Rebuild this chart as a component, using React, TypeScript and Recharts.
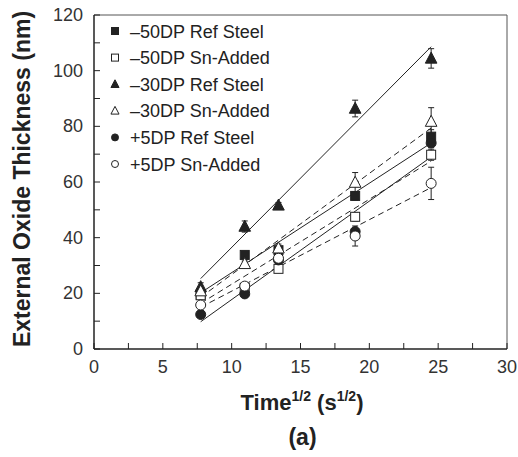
import React from 'react'
import { ScatterChart, Scatter, XAxis, YAxis, ErrorBar, ReferenceLine, Label } from 'recharts'

// sqrt of exposure time (s^1/2)
const times = [7.75, 10.95, 13.4, 18.97, 24.49]
const fitX = [7.75, 24.49]

const xTicks = [0, 2.5, 5, 7.5, 10, 12.5, 15, 17.5, 20, 22.5, 25, 27.5, 30]
const yTicks = [0, 10, 20, 30, 40, 50, 60, 70, 80, 90, 100, 110, 120]

// measured oxide thickness (nm)
const m50Ref = [19.5, 33.8, 35.5, 55, 76.3]
const m50RefErr = [1, 1, 1, 1.5, 2.5]
const m50Sn = [19.3, 22, 28.8, 47.5, 69.8]
const m50SnErr = [1, 1, 1, 1.5, 2]
const m30Ref = [22.3, 44, 51.6, 86.4, 104.4]
const m30RefErr = [1.5, 2, 1, 3, 3.5]
const m30Sn = [20.8, 30.6, 36.2, 59.8, 81.7]
const m30SnErr = [1, 1, 1.5, 3.6, 5]
const p5Ref = [12.4, 19.8, 32, 42.2, 74]
const p5RefErr = [1, 1, 1, 1, 1.5]
const p5Sn = [15.8, 22.6, 32.6, 40.6, 59.5]
const p5SnErr = [1, 1, 1, 3.6, 5.8]

// linear fits (start, end)
const m50RefFit = [20.2, 74.0]
const m50SnFit = [16.4, 67.5]
const m30RefFit = [25.3, 108.6]
const m30SnFit = [18.6, 79.4]
const p5RefFit = [9.8, 69.0]
const p5SnFit = [15.0, 58.0]

const INK = '#222'
const FONT = '"Liberation Sans", Arial, sans-serif'

type Kind = 'square' | 'triangle' | 'circle'

function marker(kind: Kind, filled: boolean, cx: number, cy: number, s: number) {
  const fill = filled ? INK : '#fff'
  if (kind === 'square') {
    return <rect x={cx - s / 2} y={cy - s / 2} width={s} height={s} fill={fill} stroke={INK} strokeWidth={1} />
  }
  if (kind === 'triangle') {
    const h = s * 1.05
    return (
      <polygon
        points={`${cx},${cy - h * 0.6} ${cx - s * 0.58},${cy + h * 0.45} ${cx + s * 0.58},${cy + h * 0.45}`}
        fill={fill}
        stroke={INK}
        strokeWidth={1}
      />
    )
  }
  return <circle cx={cx} cy={cy} r={s / 2} fill={fill} stroke={INK} strokeWidth={1} />
}

const series = [
  { name: '\u201350DP Ref Steel', kind: 'square' as Kind, filled: true, vals: m50Ref, errs: m50RefErr, fit: m50RefFit, dashed: false },
  { name: '\u201350DP Sn-Added', kind: 'square' as Kind, filled: false, vals: m50Sn, errs: m50SnErr, fit: m50SnFit, dashed: true },
  { name: '\u201330DP Ref Steel', kind: 'triangle' as Kind, filled: true, vals: m30Ref, errs: m30RefErr, fit: m30RefFit, dashed: false },
  { name: '\u201330DP Sn-Added', kind: 'triangle' as Kind, filled: false, vals: m30Sn, errs: m30SnErr, fit: m30SnFit, dashed: true },
  { name: '+5DP Ref Steel', kind: 'circle' as Kind, filled: true, vals: p5Ref, errs: p5RefErr, fit: p5RefFit, dashed: false },
  { name: '+5DP Sn-Added', kind: 'circle' as Kind, filled: false, vals: p5Sn, errs: p5SnErr, fit: p5SnFit, dashed: true },
]

const XTick = (props: any) => {
  const { x, y, payload } = props
  const major = payload.value % 5 === 0
  return (
    <g>
      <line x1={x} y1={y} x2={x} y2={y - 6} stroke={INK} strokeWidth={1} />
      {major && (
        <text x={x} y={y + 24} textAnchor="middle" fontSize={18} fill="#333" fontFamily={FONT}>
          {payload.value}
        </text>
      )}
    </g>
  )
}

const YTick = (props: any) => {
  const { x, y, payload } = props
  const major = payload.value % 20 === 0
  return (
    <g>
      <line x1={x} y1={y} x2={x + 6} y2={y} stroke={INK} strokeWidth={1} />
      {major && (
        <text x={x - 11} y={y + 6} textAnchor="end" fontSize={18} fill="#333" fontFamily={FONT}>
          {payload.value}
        </text>
      )}
    </g>
  )
}

const LegendBox = () => (
  <svg width={200} height={160} style={{ position: 'absolute', top: 18, left: 105 }}>
    {series.map((s, i) => (
      <g key={s.name}>
        {marker(s.kind, s.filled, 10, 13 + i * 26.6, 7)}
        <text x={25} y={19.5 + i * 26.6} fontSize={18} fill={INK} fontFamily={FONT}>
          {s.name}
        </text>
      </g>
    ))}
  </svg>
)

export default function App() {
  return (
    <div style={{ position: 'absolute', top: 0, left: 0, width: 518, height: 457, background: '#fff' }}>
      <ScatterChart width={518} height={457} margin={{ top: 15, right: 11, left: 0, bottom: 0 }}>
        <XAxis
          type="number"
          dataKey="x"
          domain={[0, 30]}
          ticks={xTicks}
          interval={0}
          tickSize={0}
          tickMargin={0}
          tick={<XTick />}
          height={108}
          stroke={INK}
          strokeWidth={1.5}
        >
          <Label
            content={() => (
              <text x={302} y={410} textAnchor="middle" fontSize={22} fontWeight="bold" fill={INK} fontFamily={FONT}>
                Time
                <tspan fontSize={14} dy={-9}>1/2</tspan>
                <tspan dy={9}> (s</tspan>
                <tspan fontSize={14} dy={-9}>1/2</tspan>
                <tspan dy={9}>)</tspan>
              </text>
            )}
          />
        </XAxis>
        <YAxis
          type="number"
          dataKey="y"
          domain={[0, 120]}
          ticks={yTicks}
          interval={0}
          tickSize={0}
          tickMargin={0}
          tick={<YTick />}
          width={94}
          stroke={INK}
          strokeWidth={1.5}
        >
          <Label
            content={() => (
              <text
                x={22}
                y={179}
                transform="rotate(-90, 22, 179)"
                textAnchor="middle"
                dominantBaseline="central"
                fontSize={23}
                fontWeight="bold"
                fill={INK}
                fontFamily={FONT}
              >
                External Oxide Thickness (nm)
              </text>
            )}
          />
        </YAxis>
        <ReferenceLine y={120} stroke="#555" strokeWidth={1} />
        <ReferenceLine x={30} stroke="#555" strokeWidth={1} />

        {series.map((s) => (
          <Scatter
            key={s.name + '-fit'}
            data={fitX.map((x, i) => ({ x, y: s.fit[i] }))}
            line={{ stroke: INK, strokeWidth: 1, strokeDasharray: s.dashed ? '6 4' : undefined }}
            shape={() => <g />}
            legendType="none"
            isAnimationActive={false}
          />
        ))}

        {series.map((s) => (
          <Scatter
            key={s.name}
            name={s.name}
            data={times.map((x, i) => ({ x, y: s.vals[i], err: s.errs[i] }))}
            shape={(p: any) => marker(s.kind, s.filled, p.cx, p.cy, s.kind === 'square' ? 9 : 10)}
            isAnimationActive={false}
          >
            <ErrorBar dataKey="err" direction="y" width={3} stroke={INK} strokeWidth={1} />
          </Scatter>
        ))}
      </ScatterChart>
      <LegendBox />
      <div
        style={{
          position: 'absolute',
          top: 424,
          left: 0,
          width: 605,
          textAlign: 'center',
          fontFamily: FONT,
          fontWeight: 'bold',
          fontSize: 23,
          color: INK,
        }}
      >
        (a)
      </div>
    </div>
  )
}
